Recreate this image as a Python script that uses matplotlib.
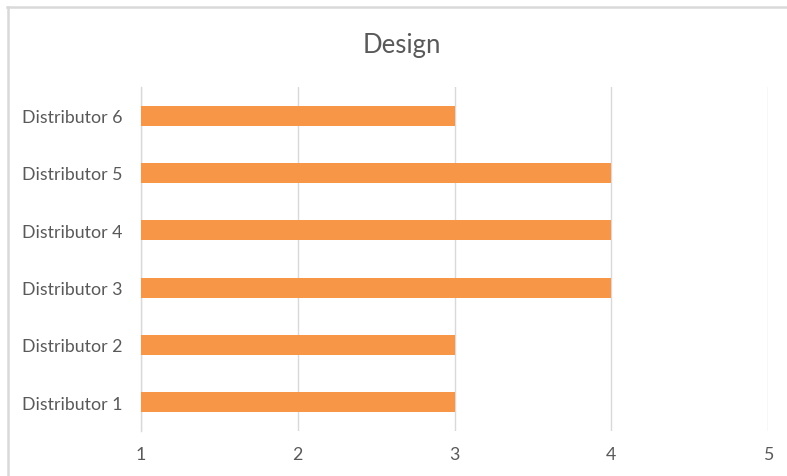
import matplotlib

matplotlib.use("Agg")
import matplotlib.pyplot as plt
from matplotlib.lines import Line2D

# ---- data ----
distributors = ["Distributor 1", "Distributor 2", "Distributor 3",
                "Distributor 4", "Distributor 5", "Distributor 6"]
scores = [3, 3, 4, 4, 4, 3]
x_ticks = [1, 2, 3, 4, 5]

BAR_COLOR = "#F79646"
TEXT_COLOR = "#595959"
GRID_COLOR = "#D9D9D9"

plt.rcParams["font.family"] = ["Lato", "DejaVu Sans"]

fig = plt.figure(figsize=(7.87, 4.77), dpi=100)
ax = fig.add_axes([141 / 787, 1 - 432 / 477, 627 / 787, 344 / 477])

x_min = x_ticks[0]
ax.barh(range(len(distributors)), [s - x_min for s in scores], left=x_min,
        height=0.35, color=BAR_COLOR, zorder=3)

ax.set_xlim(x_min, x_ticks[-1])
ax.set_ylim(-0.5, len(distributors) - 0.5)
ax.set_xticks(x_ticks)
ax.set_yticks(range(len(distributors)))
ax.set_yticklabels(distributors)

ax.grid(axis="x", color=GRID_COLOR, linewidth=1, zorder=0)
for side in ("top", "right", "bottom"):
    ax.spines[side].set_visible(False)
ax.spines["left"].set_color(GRID_COLOR)
ax.spines["left"].set_linewidth(1)

ax.tick_params(axis="both", length=0, labelsize=12.8, colors=TEXT_COLOR)
ax.tick_params(axis="y", pad=13.5)
ax.tick_params(axis="x", pad=11)

fig.text(402 / 787, 1 - 45 / 477, "Design", ha="center", va="center",
         fontsize=18.5, color=TEXT_COLOR)

# chart border (left and top edges)
fig.add_artist(Line2D([7.5 / 787, 7.5 / 787], [0, 1 - 8 / 477],
                      transform=fig.transFigure, color=GRID_COLOR, linewidth=1.8))
fig.add_artist(Line2D([7 / 787, 1], [1 - 8 / 477, 1 - 8 / 477],
                      transform=fig.transFigure, color=GRID_COLOR, linewidth=1.8))

fig.savefig("out.png", dpi=100)
